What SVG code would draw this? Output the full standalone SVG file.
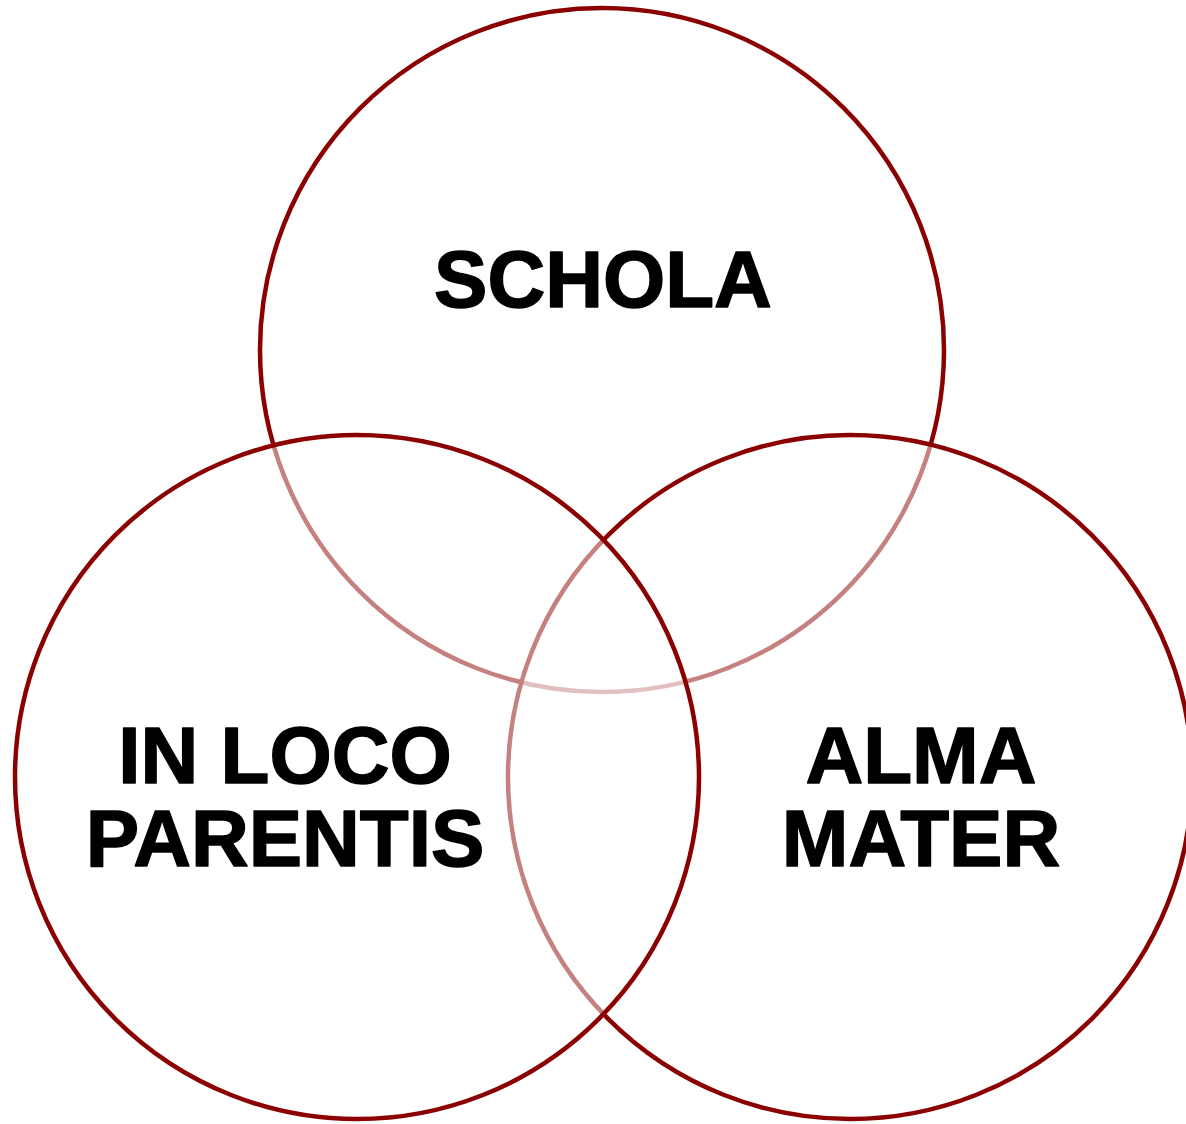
<svg xmlns="http://www.w3.org/2000/svg" width="1186" height="1124" viewBox="0 0 1186 1124">
<style>
.c{fill:#ffffff;fill-opacity:0.5;stroke:#8b0000;stroke-width:4.5}
.t{font-family:"Liberation Sans",Arial,sans-serif;font-weight:bold;font-size:80px;fill:#000;stroke:#000;stroke-width:1.5;stroke-linejoin:round;text-anchor:middle}
</style>
<rect width="1186" height="1124" fill="#fff"/>
<g id="schola">
<circle class="c" cx="602" cy="350" r="342"/>
<text class="t" x="603" y="307">SCHOLA</text>
</g>
<g id="alma-mater">
<circle class="c" cx="850" cy="777" r="342"/>
<text class="t" x="921" y="783">ALMA</text>
<text class="t" x="921" y="866">MATER</text>
</g>
<g id="in-loco-parentis">
<circle class="c" cx="357" cy="777" r="342"/>
<text class="t" x="285" y="783">IN LOCO</text>
<text class="t" x="285" y="866">PARENTIS</text>
</g>
<g id="connectors"/>
</svg>
